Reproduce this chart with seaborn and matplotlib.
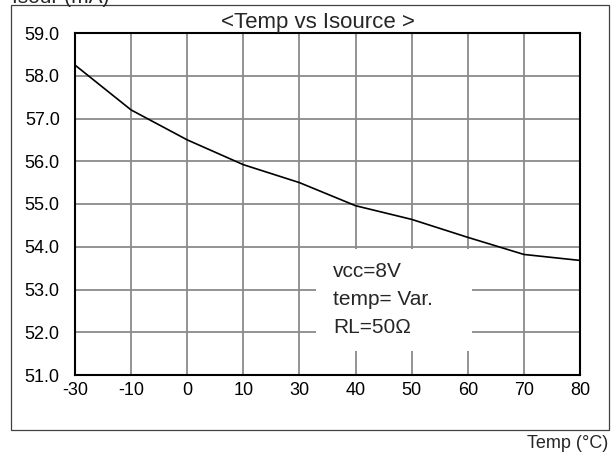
import numpy as np
import pandas as pd
import matplotlib
matplotlib.use("Agg")
import matplotlib.pyplot as plt
from matplotlib.patches import Rectangle
import seaborn as sns

# data
temps = ["-30", "-10", "0", "10", "30", "40", "50", "60", "70", "80"]
isource = [58.25, 57.2, 56.5, 55.92, 55.5, 54.96, 54.64, 54.22, 53.82, 53.68]
y_ticks = [51.0, 52.0, 53.0, 54.0, 55.0, 56.0, 57.0, 58.0, 59.0]
note_lines = ["vcc=8V", "temp= Var.", "RL=50\u03a9"]

df = pd.DataFrame({"pos": np.arange(len(temps)), "isource": isource})

sns.set_style("white")
plt.rcParams["font.family"] = ["Liberation Sans", "DejaVu Sans"]

fig = plt.figure(figsize=(6.15, 4.58), dpi=100)
W, H = 615, 458

# outer frame
fig.patches.append(Rectangle((11 / W, 1 - 430 / H), 598 / W, 425 / H,
                             transform=fig.transFigure, fill=False,
                             edgecolor="#404040", linewidth=0.9))

ax = fig.add_axes([75 / W, 1 - 375 / H, 505 / W, 342 / H])
sns.lineplot(data=df, x="pos", y="isource", color="black", linewidth=1.2, ax=ax, zorder=5)

ax.set_xlim(0, len(temps) - 1)
ax.set_ylim(51, 59)
ax.set_xticks(df["pos"])
ax.set_xticklabels(temps)
ax.set_yticks(y_ticks)
ax.set_yticklabels([f"{v:.1f}" for v in y_ticks])
ax.tick_params(axis="both", length=0, labelsize=13, colors="black")
ax.tick_params(axis="y", pad=11)
ax.tick_params(axis="x", pad=5)
ax.grid(True, color="#8a8a8a", linewidth=1.3)
ax.set_axisbelow(True)
for s in ax.spines.values():
    s.set_color("black")
    s.set_linewidth(1.5)
ax.set_xlabel("")
ax.set_ylabel("")

# annotation box
ax.add_patch(Rectangle((0.477, 0.070), 0.309, 0.298, transform=ax.transAxes,
                       facecolor="white", edgecolor="none", zorder=3))
for i, line in enumerate(note_lines):
    fig.text(333 / W, 1 - (277 + 28 * i) / H, line, fontsize=15,
             va="baseline", ha="left", zorder=6)

fig.text(318 / W, 1 - 28 / H, "<Temp vs Isource >", fontsize=16, ha="center", va="baseline")
# y label sits at the very top edge, mostly cut off as in the original
fig.text(12 / W, 1 - 3 / H, "Isour (mA)", fontsize=15, ha="left", va="baseline")
fig.text(608 / W, 1 - 448 / H, "Temp (\u00b0C)", fontsize=13, ha="right", va="baseline")

fig.savefig("out.png", dpi=100)
